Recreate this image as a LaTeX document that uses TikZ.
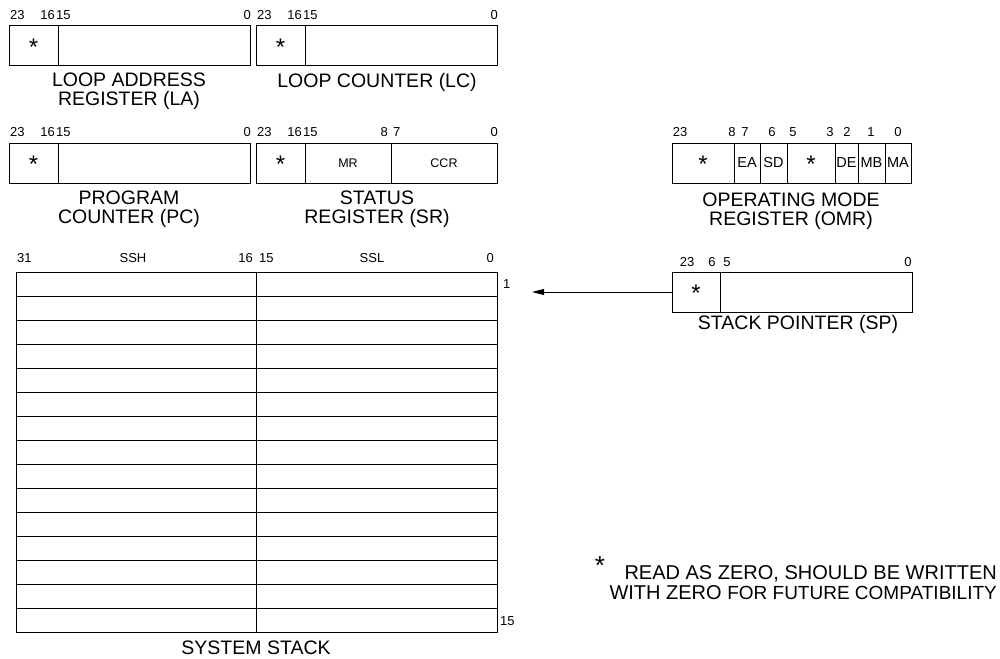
\documentclass[tikz,border=0pt]{standalone}
\usepackage{fontspec}
\setmainfont{Liberation Sans}
\usetikzlibrary{arrows.meta,positioning}

\begin{document}
\begin{tikzpicture}[x=1pt,y=-1pt,
 cell/.style={draw,line width=1pt,minimum height=40,inner sep=0pt,outer sep=0pt},
 zero/.style={font=\fontsize{24}{24}\selectfont,yshift=-1.5pt,inner sep=0pt},
 bits/.style={font=\fontsize{13}{13}\selectfont,inner sep=0pt},
 title/.style={font=\fontsize{19.5}{19}\selectfont,align=center,inner sep=0pt},
 field/.style={font=\fontsize{12.5}{12.5}\selectfont},
 flag/.style={font=\fontsize{14.5}{14.5}\selectfont,inner sep=0pt},
 arrow/.style={-{Triangle[length=12pt,width=6pt]},line width=1pt}]
\useasboundingbox[fill=white] (0,0) rectangle (1000,658);
% 24-bit registers with reserved upper byte
\foreach \n/\x/\y in {la/9/46,lc/256/46,pc/9/163}{
 \node[cell,minimum width=49] (\n-z) at (\x+24.5,\y) {};
 \node[cell,minimum width=192] (\n-v) at (\x+145,\y) {};
 \node[zero] (\n-s) at (\n-z) {*};
 \node[bits,anchor=west] (\n-23) at (\x+1,\y-31) {23};
 \node[bits,anchor=east] (\n-16) at (\x+46,\y-31) {16};
 \node[bits,anchor=west] (\n-15) at (\x+47,\y-31) {15};
 \node[bits,anchor=east] (\n-0) at (\x+242,\y-31) {0};
}
% status register
\node[cell,minimum width=49] (sr-z) at (280.5,163) {};
\node[cell,minimum width=86] (sr-mr) at (348,163) {};
\node[cell,minimum width=106] (sr-ccr) at (444,163) {};
\node[zero] (sr-s) at (sr-z) {*};
\node[field] (sr-mrt) at (sr-mr) {MR};
\node[field] (sr-ccrt) at (sr-ccr) {CCR};
\node[bits,anchor=west] (sr-23) at (257,132) {23};
\node[bits,anchor=east] (sr-16) at (302,132) {16};
\node[bits,anchor=west] (sr-15) at (303,132) {15};
\node[bits,anchor=east] (sr-8) at (388,132) {8};
\node[bits,anchor=west] (sr-7) at (393,132) {7};
\node[bits,anchor=east] (sr-0) at (498,132) {0};
\node[title] (la-t) at (129,91) {LOOP ADDRESS\\REGISTER (LA)};
\node[title] (lc-t) at (377,82) {LOOP COUNTER (LC)};
\node[title] (pc-t) at (129,209) {PROGRAM\\COUNTER (PC)};
\node[title] (sr-t) at (377,209) {STATUS\\REGISTER (SR)};
% operating mode register
\node[cell,minimum width=62] (omr-z1) at (703,163) {};
\node[cell,minimum width=26] (omr-ea) at (747,163) {};
\node[cell,minimum width=27] (omr-sd) at (773.5,163) {};
\node[cell,minimum width=48] (omr-z2) at (811,163) {};
\node[cell,minimum width=23] (omr-de) at (846.5,163) {};
\node[cell,minimum width=27] (omr-mb) at (871.5,163) {};
\node[cell,minimum width=26] (omr-ma) at (898,163) {};
\node[zero] (omr-s1) at (omr-z1) {*};
\node[zero] (omr-s2) at (omr-z2) {*};
\node[flag] (omr-eat) at (omr-ea) {EA};
\node[flag] (omr-sdt) at (omr-sd) {SD};
\node[flag] (omr-det) at (omr-de) {DE};
\node[flag] (omr-mbt) at (omr-mb) {MB};
\node[flag] (omr-mat) at (omr-ma) {MA};
\foreach \t/\x in {23/680,8/732,7/745,6/772,5/793,3/830,2/847,1/871,0/898}
 \node[bits] (omr-b\t) at (\x,132) {\t};
\node[title] (omr-t) at (791,211) {OPERATING MODE\\REGISTER (OMR)};
% stack pointer
\node[cell,minimum width=48] (sp-z) at (696,292) {};
\node[cell,minimum width=192] (sp-v) at (816,292) {};
\node[zero] (sp-s) at (sp-z) {*};
\foreach \t/\x in {23/687,6/712,5/727,0/908}
 \node[bits] (sp-b\t) at (\x,262) {\t};
\node[title] (sp-t) at (798,324) {STACK POINTER (SP)};
% system stack
\node[cell,minimum width=481,minimum height=360] (stk) at (256.5,452) {};
\draw[line width=1pt] (stk.north) -- (stk.south);
\foreach \r in {1,...,14}
 \draw[line width=1pt] ([yshift=-24*\r]stk.north west) -- ([yshift=-24*\r]stk.north east);
\node[bits,anchor=west] (stk-31) at (17,258) {31};
\node[bits] (stk-ssh) at (133,258) {SSH};
\node[bits,anchor=east] (stk-16) at (253,258) {16};
\node[bits,anchor=west] (stk-15) at (259,258) {15};
\node[bits] (stk-ssl) at (372,258) {SSL};
\node[bits,anchor=east] (stk-0) at (494,258) {0};
\node[bits,anchor=west] (stk-r1) at (503,284) {1};
\node[bits,anchor=west] (stk-r15) at (500,621) {15};
\node[title] (stk-t) at (256,648) {SYSTEM STACK};
\coordinate (stk-tip) at (532,292);
\draw[arrow] (sp-z.west) -- (stk-tip);
% note
\node[font=\fontsize{26}{26}\selectfont,inner sep=0pt] (note-s) at (600,566) {*};
\node[font=\fontsize{20}{20}\selectfont,anchor=east,inner sep=0pt] (note-1) at (997,574) {READ AS ZERO, SHOULD BE WRITTEN};
\node[font=\fontsize{20}{20}\selectfont,anchor=east,inner sep=0pt] (note-2) at (997,593) {WITH ZERO {\fontsize{19}{19}\selectfont FOR FUTURE COMPATIBILITY}};
\end{tikzpicture}
\end{document}
